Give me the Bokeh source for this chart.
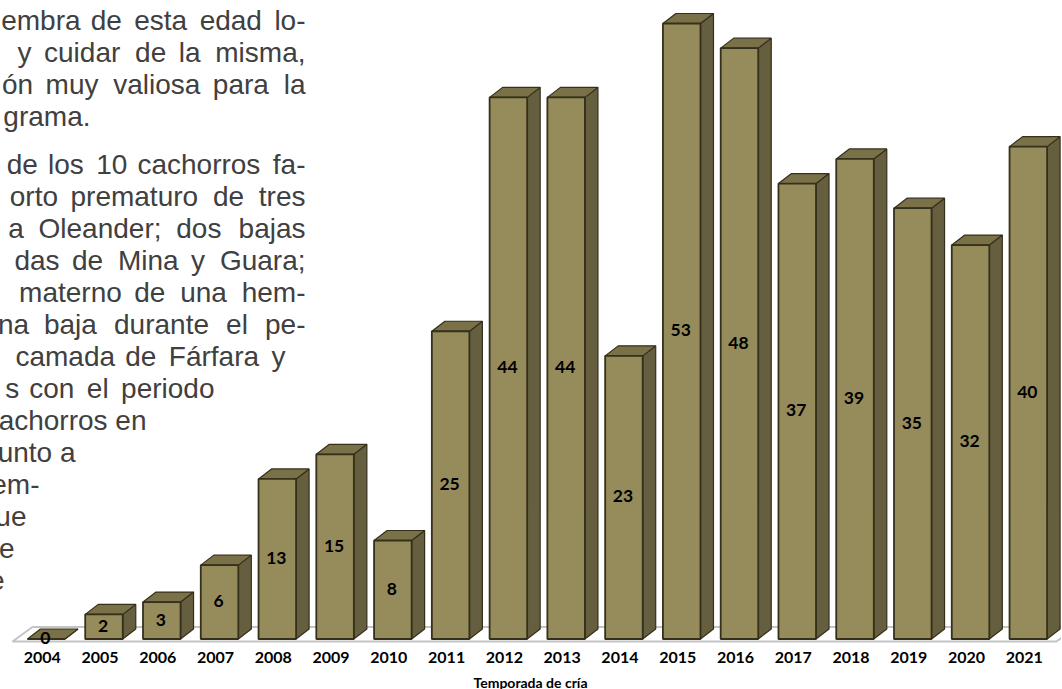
from bokeh.plotting import figure
from bokeh.models import Range1d, LinearAxis, FixedTicker, ColumnDataSource
from bokeh.core.properties import value
from bokeh.embed import file_html
from bokeh.resources import INLINE

# ---- data ----
years = list(range(2004, 2022))
tick_labels = [str(y) for y in years]
# printed value on each bar
cachorros = [0, 2, 3, 6, 13, 15, 8, 25, 44, 44, 23, 53, 48, 37, 39, 35, 32, 40]
# drawn height of each bar (the 2015 bar is drawn shorter than its printed value)
alturas = [0, 2, 3, 6, 13, 15, 8, 25, 44, 44, 23, 50, 48, 37, 39, 35, 32, 40]
axis_title = "Temporada de cría"

parrafo = [
    "embra de esta edad lo-", "y cuidar de la misma,", "ón muy valiosa para la", "grama.",
    "de los 10 cachorros fa-", "orto prematuro de tres", "a Oleander; dos bajas",
    "das de Mina y Guara;", "materno de una hem-", "na baja durante el pe-",
    "camada de Fárfara y", "s con el periodo", "achorros en", "unto a", "em-", "ue", "e", "e",
]
parrafo_fin = [306, 306, 306, 91, 306, 306, 306, 306, 306, 306, 286, 215, 147, 76, 40, 27, 15, 5]
parrafo_base = [31, 63, 95, 127, 175, 207, 239, 271, 303, 335, 367, 399, 431, 463, 495, 527, 559, 591]
parrafo_extra = [16, 24, 24, 0, 14, 19, 22, 23, 19, 34, 12, 12, 0, 0, 0, 0, 0, 0]

# ---- layout constants ----
W, H = 1062, 694
PX_X = 57.77      # px per season
PX_Y = 12.3       # px per cub
X0 = 2005 - 104.5 / PX_X
BASE_PX = 639
FRAME_BOTTOM = 651.5
bar_w = 0.65
dx = 13 / PX_X
dy = 10 / PX_Y
HAIR = 2.3

p = figure(width=W, height=H, output_backend="svg", toolbar_location=None,
           x_axis_location=None, y_axis_location=None,
           x_range=Range1d(X0, X0 + W / PX_X),
           y_range=Range1d(-(FRAME_BOTTOM - BASE_PX) / PX_Y, BASE_PX / PX_Y),
           min_border_left=0, min_border_right=0, min_border_top=0, min_border_bottom=0,
           margin=(-1, 0, -6, -1))
p.grid.visible = False
p.outline_line_color = None
p.background_fill_color = "white"
p.border_fill_color = "white"

# floor
fx = [2005 - 91.5 / PX_X, 2005 + 952.5 / PX_X, 2005 + 972.5 / PX_X, 2005 - 71.5 / PX_X]
fy = [-2.5 / PX_Y, -2.5 / PX_Y, 12 / PX_Y, 12 / PX_Y]
p.patch(fx, fy, fill_color="white", line_color="#c4c4c4", line_width=2)

# 3-D bars
hw = bar_w / 2
side_xs = [[y + hw, y + hw + dx, y + hw + dx, y + hw] for y in years]
side_ys = [[0, dy, h + dy, h] for h in alturas]
top_xs = [[y - hw, y + hw, y + hw + dx, y - hw + dx] for y in years]
top_ys = [[h, h, h + dy, h + dy] for h in alturas]
dark = "#35301b"
p.patches(side_xs, side_ys, fill_color="#655e3f", line_color=dark, line_width=1.2)
p.patches(top_xs, top_ys, fill_color="#7a7148", line_color=dark, line_width=1.2)
p.vbar(x=years, top=alturas, bottom=0, width=bar_w, fill_color="#968c5b",
       line_color=dark, line_width=1.8)

# value labels
src = ColumnDataSource(dict(x=years, y=[h / 2 for h in alturas], t=[str(c) for c in cachorros]))
p.text("x", "y", text="t", source=src, text_align="center", text_baseline="middle",
       text_font=value("Lato"), text_font_style="bold", text_font_size="17.5px",
       text_color="#000000", x_offset=-1, y_offset=-1)

# clipped paragraph on the left (justified: word gaps widened with hair spaces)
def justificar(t, extra):
    palabras = t.split(" ")
    huecos = len(palabras) - 1
    total = round(extra / HAIR)
    out = palabras[0]
    for i, w in enumerate(palabras[1:]):
        n = total * (i + 1) // huecos - total * i // huecos
        out += " " + "\u200a" * n + w
    return out

lineas = [justificar(t, e) for t, e in zip(parrafo, parrafo_extra)]
ptx = [X0 + v / PX_X for v in parrafo_fin]
pty = [(BASE_PX - v) / PX_Y for v in parrafo_base]
p.text(ptx, pty, text=lineas, text_align="right", text_baseline="alphabetic",
       text_font=value("Liberation Sans"), text_font_size="28px", text_color="#404040",
       y_offset=-10)

# year axis (labels sit a few px left of the bars)
shift = 4 / PX_X
p.extra_x_ranges = {"anios": Range1d(X0 + shift, X0 + W / PX_X + shift)}
ax = LinearAxis(x_range_name="anios", ticker=FixedTicker(ticks=years),
                major_label_overrides={y: t for y, t in zip(years, tick_labels)},
                axis_label=axis_title)
ax.axis_line_color = None
ax.major_tick_line_color = None
ax.minor_tick_line_color = None
ax.major_tick_out = 0
ax.major_tick_in = 0
ax.major_label_standoff = 0
ax.major_label_text_font = "Lato"
ax.major_label_text_font_style = "bold"
ax.major_label_text_font_size = "16px"
ax.major_label_text_color = "#000000"
ax.axis_label_standoff = 8
ax.axis_label_text_font = "Lato"
ax.axis_label_text_font_style = "bold"
ax.axis_label_text_font_size = "14px"
ax.axis_label_text_color = "#000000"
p.add_layout(ax, "below")

open("out.html", "w").write(file_html(p, INLINE))
